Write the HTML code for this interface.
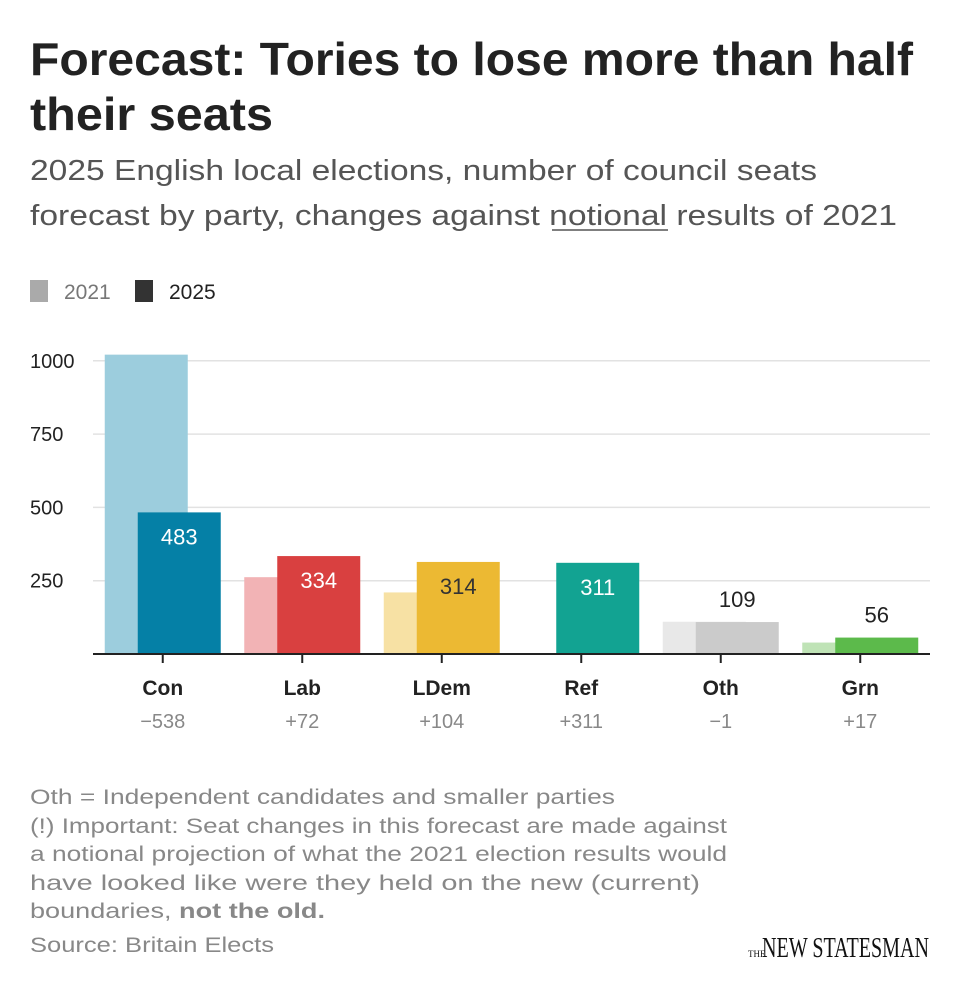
<!DOCTYPE html>
<html><head><meta charset="utf-8"><style>
html,body{margin:0;padding:0;background:#fff;}
svg{display:block;font-family:"Liberation Sans",sans-serif;}
</style></head><body>
<svg id="chart" width="960" height="992" viewBox="0 0 960 992" xmlns="http://www.w3.org/2000/svg">
<text x="30" y="75" font-size="46" font-weight="bold" fill="#222" textLength="883" lengthAdjust="spacingAndGlyphs">Forecast: Tories to lose more than half</text>
<text x="30" y="130" font-size="46" font-weight="bold" fill="#222" textLength="243" lengthAdjust="spacingAndGlyphs">their seats</text>
<text x="30" y="180" font-size="29" fill="#555" textLength="787" lengthAdjust="spacingAndGlyphs">2025 English local elections, number of council seats</text>
<text x="30" y="225" font-size="29" fill="#555" textLength="867" lengthAdjust="spacingAndGlyphs">forecast by party, changes against notional results of 2021</text>
<line x1="552" y1="230" x2="668" y2="230" stroke="#555" stroke-width="1.5"/>
<g>
<rect x="30" y="280" width="18" height="22" fill="#aaa"/>
<text x="64" y="299" font-size="21" fill="#777">2021</text>
<rect x="135" y="280" width="18" height="22" fill="#333"/>
<text x="169" y="299" font-size="21" fill="#222">2025</text>
</g>
<g id="grid"></g>
<g id="bars"></g>
<g id="labels"></g>
<g font-size="21" fill="#888">
<text x="30" y="804" textLength="585" lengthAdjust="spacingAndGlyphs">Oth = Independent candidates and smaller parties</text>
<text x="30" y="833" textLength="697" lengthAdjust="spacingAndGlyphs">(!) Important: Seat changes in this forecast are made against</text>
<text x="30" y="861" textLength="697" lengthAdjust="spacingAndGlyphs">a notional projection of what the 2021 election results would</text>
<text x="30" y="890" textLength="670" lengthAdjust="spacingAndGlyphs">have looked like were they held on the new (current)</text>
<text x="30" y="918" textLength="295" lengthAdjust="spacingAndGlyphs">boundaries, <tspan font-weight="bold">not the old.</tspan></text>
</g>
<text x="30" y="952" font-size="21" fill="#888" textLength="244" lengthAdjust="spacingAndGlyphs">Source: Britain Elects</text>
<g font-family="Liberation Serif, serif" fill="#111">
<text x="748" y="957" font-size="9">THE</text>
<text x="762" y="957" font-size="29" textLength="167" lengthAdjust="spacingAndGlyphs">NEW STATESMAN</text>
</g>
</svg>
<script>
const categories = ["Con","Lab","LDem","Ref","Oth","Grn"];
const seats2021 = [1021, 262, 210, 0, 110, 39];
const seats2025 = [483, 334, 314, 311, 109, 56];
const changeLabels = ["\u2212538","+72","+104","+311","\u22121","+17"];
const yTicks = [250, 500, 750, 1000];
const colors2021 = ["#9ccddd","#f2b3b5","#f7e1a4","#9fd9cf","#e8e8e8","#bfe3b6"];
const colors2025 = ["#0580a6","#d94040","#ecb933","#12a392","#cbcbcb","#5cba4b"];
const labelColors = ["#fff","#fff","#333","#fff","#222","#222"];
const labelInside = [true,true,true,true,false,false];

const NS="http://www.w3.org/2000/svg";
const x0=93, x1=930, base=654, pxPerSeat=293.2/1000;
const band=(x1-x0)/categories.length;
function yScale(v){return base - v*pxPerSeat;}
function xCenter(i){return x0 + band*(i+0.5);}
function mk(tag, attrs, parent){const e=document.createElementNS(NS,tag);for(const k in attrs)e.setAttribute(k,attrs[k]);parent.appendChild(e);return e;}

const grid=document.getElementById('grid');
yTicks.forEach(t=>{
  const l=mk('line',{x1:x0,x2:x1,y1:yScale(t),y2:yScale(t),stroke:'#e2e2e2','stroke-width':1.5},grid);
  
  
  const tx=mk('text',{x:30,y:yScale(t)+7,'font-size':20,fill:'#222'},grid);
  
  
  tx.textContent=t;
});

const bars=document.getElementById('bars');
const labels=document.getElementById('labels');
const bw=83;
categories.forEach((c,i)=>{
  const cx=xCenter(i);
  const a=seats2021[i], b=seats2025[i];
  const r1=mk('rect',{x:cx-58,y:yScale(a),width:bw,height:base-yScale(a),fill:colors2021[i]},bars);
  
  
  const r2=mk('rect',{x:cx-25,y:yScale(b),width:bw,height:base-yScale(b),fill:colors2025[i]},bars);
  
  
  const vy = labelInside[i] ? yScale(b)+32 : yScale(b)-15;
  const v=mk('text',{x:cx+16.5,y:vy,'font-size':22,fill:labelColors[i],'text-anchor':'middle'},labels);
  
  
  v.textContent=b;
  const tk=mk('line',{x1:cx,x2:cx,y1:base,y2:base+9,stroke:'#222','stroke-width':2},labels);
  
  
  const cl=mk('text',{x:cx,y:695,'font-size':21,'font-weight':'bold',fill:'#222','text-anchor':'middle'},labels);
  
  
  cl.textContent=c;
  const ch=mk('text',{x:cx,y:728,'font-size':20,fill:'#888','text-anchor':'middle'},labels);
  
  
  ch.textContent=changeLabels[i];
});
const ax=mk('line',{x1:x0,x2:x1,y1:base,y2:base,stroke:'#222','stroke-width':2},labels);


</script>
</body></html>
